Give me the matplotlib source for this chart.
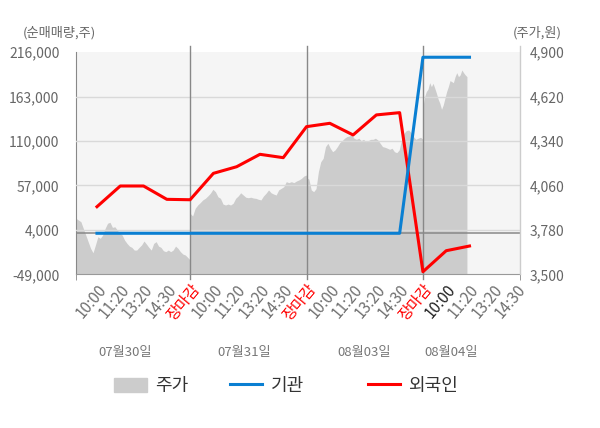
import numpy as np
import matplotlib.pyplot as plt
from matplotlib.patches import Patch
from matplotlib.lines import Line2D

plt.rcParams['font.family'] = ['Noto Sans CJK KR', 'DejaVu Sans']

# 시간 라벨 / 날짜
times = ['10:00', '11:20', '13:20', '14:30', '장마감'] * 3 + ['10:00', '11:20', '13:20', '14:30']
dates = ['07월30일', '07월31일', '08월03일', '08월04일']

# 주가 (원) - 일별
price_d1 = [3853, 3842, 3832, 3790, 3748, 3706, 3664, 3636, 3685, 3737, 3727, 3748,
            3790, 3822, 3828, 3796, 3800, 3779, 3758, 3748, 3716, 3695, 3678, 3670,
            3653, 3653, 3670, 3685, 3710, 3691, 3670, 3653, 3695, 3706, 3678, 3670,
            3649, 3643, 3653, 3643, 3653, 3678, 3664, 3643, 3628, 3622, 3607, 3590]
price_d2 = [3885, 3868, 3916, 3937, 3952, 3969, 3979, 3994, 4011, 4036, 4021, 3989,
            3979, 3943, 3937, 3943, 3937, 3948, 3979, 3994, 4014, 4000, 3986, 3983,
            3986, 3981, 3979, 3973, 3969, 3994, 4011, 4032, 4014, 4006, 4000, 4032,
            4042, 4052, 4084, 4078, 4084, 4078, 4088, 4095, 4105, 4120, 4126]
price_d3 = [4110, 4100, 4032, 4021, 4040, 4147, 4210, 4231, 4305, 4326, 4295, 4273,
            4284, 4305, 4330, 4343, 4358, 4368, 4372, 4378, 4358, 4351, 4358, 4343,
            4351, 4336, 4343, 4351, 4351, 4358, 4347, 4326, 4305, 4301, 4295, 4288,
            4295, 4273, 4267, 4284, 4347, 4389, 4406, 4410, 4393, 4368, 4351, 4358,
            4364, 4351]
price_d4 = [4557, 4620, 4652, 4667, 4708, 4683, 4704, 4673, 4641, 4604, 4578, 4540,
            4568, 4610, 4652, 4683, 4721, 4715, 4708, 4746, 4771, 4746, 4757, 4788,
            4771, 4757, 4746]

# 순매매량 (주)
foreign = [31700, 56400, 56400, 40500, 40000, 71500, 79400, 94200, 90200, 127200,
           131200, 117300, 141200, 143900, -45900, -20800, -15200]
inst = [0, 0, 0, 0, 0, 0, 0, 0, 0, 0, 0, 0, 0, 0, 210000, 210000, 210000]

left_ticks = [-49000, 4000, 57000, 110000, 163000, 216000]
right_ticks = [3500, 3780, 4060, 4340, 4620, 4900]

# 일 단위 x 구간 (한 날 = 5칸)
x0, x1 = 0.1, 19.17
day_spans = [(x0, 5), (5, 10), (10, 15), (15, 16.89)]
px, pv = [], []
for (a, b), d in zip(day_spans, [price_d1, price_d2, price_d3, price_d4]):
    px.extend(np.linspace(a, b, len(d)))
    pv.extend(d)

fig = plt.figure(figsize=(6, 4.28), dpi=100)
ax_p = fig.add_axes([0.1267, 0.359, 0.74, 0.519])
ax_f = ax_p.twinx()

ax_p.set_facecolor('#f5f5f5')
ax_p.fill_between(px, right_ticks[0], pv, color='#cccccc', lw=0)
ax_p.set_ylim(right_ticks[0], right_ticks[-1])
ax_p.set_xlim(x0, x1)
ax_p.yaxis.tick_right()
ax_p.set_yticks(right_ticks)
ax_p.set_yticklabels([f'{v:,}' for v in right_ticks])

ax_f.yaxis.tick_left()
ax_f.set_ylim(left_ticks[0], left_ticks[-1])
ax_f.set_yticks(left_ticks)
ax_f.set_yticklabels([f'{v:,}' for v in left_ticks])
ax_f.set_xlim(x0, x1)

for ax in (ax_p, ax_f):
    ax.tick_params(axis='y', length=0, labelsize=10, labelcolor='#666666')
for s in ax_f.spines.values():
    s.set_visible(False)
ax_p.spines['top'].set_visible(False)
ax_p.spines['right'].set_visible(False)
ax_p.spines['left'].set_color('#888888')
ax_p.spines['bottom'].set_color('#999999')
ax_p.tick_params(axis='y', pad=7)
ax_f.tick_params(axis='y', pad=12)

# 격자
for v in left_ticks[1:-1]:
    ax_f.axhline(v, color='#d9d9d9', lw=1, zorder=1)
ax_f.axhline(0, color='#888888', lw=1.1, zorder=1.5)
for xv in (5, 10, 15):
    ax_f.axvline(xv, ymin=-0.02, ymax=1.03, color='#888888', lw=1, clip_on=False, zorder=1.5)
ax_f.axvline(x1, ymin=0, ymax=1.03, color='#cccccc', lw=1, clip_on=False)

xf = np.arange(1, len(foreign) + 1)
ax_f.plot(xf, foreign, color='#ff0000', lw=2.2, zorder=3)
ax_f.plot(xf, inst, color='#0a7fd2', lw=2.2, zorder=3)

# x 축
ax_p.set_xticks(range(1, len(times) + 1))
ax_p.set_xticklabels(times, rotation=50, ha='right', va='top', rotation_mode='anchor')
ax_p.tick_params(axis='x', length=0, labelsize=11, labelcolor='#707070', pad=5)
for i, lab in enumerate(ax_p.get_xticklabels()):
    if times[i] == '장마감':
        lab.set_color('#ff0000')
    elif i == 15:
        lab.set_color('#222222')
ax_p.set_xticks([x0, 5, 10, 15, x1], minor=True)
ax_p.tick_params(axis='x', which='minor', length=4, color='#888888')

for xv, d in zip([2.2, 7.33, 12.47, 16.19], dates):
    ax_p.text(xv, -0.35, d, transform=ax_p.get_xaxis_transform(), ha='center', va='center',
              fontsize=9.5, color='#777777')

fig.text(0.038, 1 - 33 / 428, '(순매매량,주)', ha='left', va='center', fontsize=9.5, color='#666666')
fig.text(0.937, 1 - 33 / 428, '(주가,원)', ha='right', va='center', fontsize=9.5, color='#666666')

# 범례
items = [(Patch(color='#cccccc'), '주가', 0.19),
         (Line2D([], [], color='#0a7fd2', lw=2.2), '기관', 0.383),
         (Line2D([], [], color='#ff0000', lw=2.2), '외국인', 0.613)]
for h, lab, xl in items:
    lg = fig.legend([h], [lab], loc='center left', bbox_to_anchor=(xl, 0.098), frameon=False,
                    fontsize=13, handlelength=1.8, handleheight=0.8, handletextpad=0.45,
                    borderpad=0, borderaxespad=0)
    for t in lg.get_texts():
        t.set_color('#333333')

fig.savefig('out.png', dpi=100)
